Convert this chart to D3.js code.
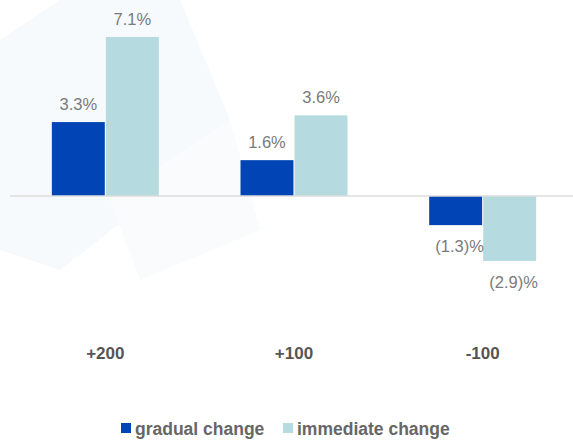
<!DOCTYPE html>
<html><head><meta charset="utf-8">
<script src="https://cdn.jsdelivr.net/npm/d3@7"></script>
<style>html,body{margin:0;padding:0;background:#fff;}svg{display:block;}</style>
</head><body>
<svg id="chart" width="573" height="444"></svg>
<script>
const categories = ["+200", "+100", "-100"];
const seriesNames = ["gradual change", "immediate change"];
const gradual = [3.3, 1.6, -1.3];
const immediate = [7.1, 3.6, -2.9];
const labelsGradual = ["3.3%", "1.6%", "(1.3)%"];
const labelsImmediate = ["7.1%", "3.6%", "(2.9)%"];
const colors = ["#0044b5", "#b5dbe0"];

const svg = d3.select("#chart");
const W = 573, H = 444;

// very faint watermark background
const wm = svg.append("g").attr("fill", "#f6fafc");
wm.append("path").attr("d", "M0,40 L60,0 L180,0 L230,120 L150,200 L60,270 L0,250 Z");
wm.append("path").attr("d", "M110,200 L230,120 L260,230 L140,280 Z").attr("fill", "#f9fbfc");

const x0 = d3.scaleBand().domain(categories).range([11, 577]).paddingInner(0.433).paddingOuter(0.2165);
const x1 = d3.scaleBand().domain(seriesNames).range([0, x0.bandwidth()]).paddingInner(0.02);
const y = d3.scaleLinear().domain([-4, 8]).range([285.6, 16.8]);

const rows = categories.map((c, i) => ({
  cat: c,
  vals: [
    {s: seriesNames[0], v: gradual[i], lab: labelsGradual[i], col: colors[0]},
    {s: seriesNames[1], v: immediate[i], lab: labelsImmediate[i], col: colors[1]}
  ]
}));

const g = svg.selectAll("g.grp").data(rows).enter().append("g")
  .attr("class", "grp").attr("transform", d => `translate(${x0(d.cat)},0)`);

g.selectAll("rect").data(d => d.vals).enter().append("rect")
  .attr("x", d => x1(d.s))
  .attr("width", x1.bandwidth())
  .attr("y", d => y(Math.max(0, d.v)))
  .attr("height", d => Math.abs(y(d.v) - y(0)))
  .attr("fill", d => d.col);

g.selectAll("text").data(d => d.vals).enter().append("text")
  .attr("x", d => x1(d.s) + x1.bandwidth() / 2 + (d.v < 0 ? 4 : 0))
  .attr("y", d => d.v >= 0 ? y(d.v) - 12 : y(d.v) + 27)
  .attr("text-anchor", "middle")
  .attr("font-family", "Liberation Sans, Arial, sans-serif")
  .attr("font-size", 16.5)
  .attr("fill", "#7a7a7a")
  .text(d => d.lab);

// zero line
svg.append("line").attr("x1", 10).attr("x2", W).attr("y1", y(0)).attr("y2", y(0))
  .attr("stroke", "#dcdcdc").attr("stroke-width", 1.5);

// category axis labels
const xAxis = d3.axisBottom(x0).tickSize(0).tickPadding(0);
const ax = svg.append("g").attr("transform", "translate(0,347)").call(xAxis);
ax.select(".domain").remove();
ax.selectAll("text")
  .attr("font-family", "Liberation Sans, Arial, sans-serif")
  .attr("font-size", 17).attr("font-weight", "bold").attr("fill", "#555");

// legend
const legendX = [121, 283];
const lg = svg.selectAll("g.leg").data(seriesNames).enter().append("g")
  .attr("class", "leg").attr("transform", (d, i) => `translate(${legendX[i]},0)`);
lg.append("rect").attr("x", 0).attr("y", 423).attr("width", 10).attr("height", 10)
  .attr("fill", (d, i) => colors[i]);
lg.append("text").attr("x", 14).attr("y", 435)
  .attr("font-family", "Liberation Sans, Arial, sans-serif")
  .attr("font-size", 17.5).attr("font-weight", "bold").attr("fill", "#666")
  .text(d => d);
</script>
</body></html>
